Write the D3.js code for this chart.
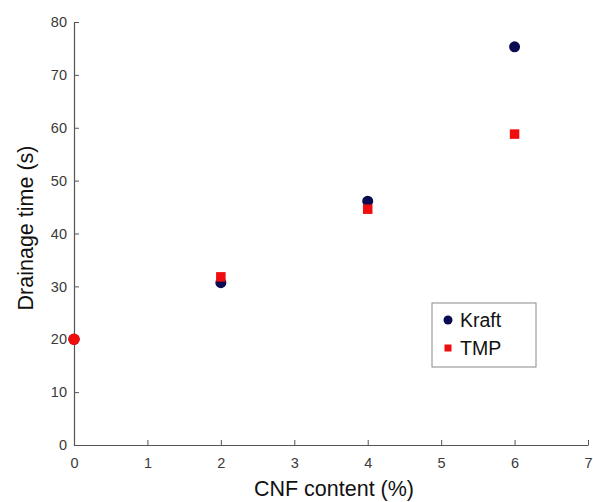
<!DOCTYPE html>
<html>
<head>
<meta charset="utf-8">
<script src="https://cdn.jsdelivr.net/npm/d3@7"></script>
<style>
  body { margin: 0; background: #fff; }
  svg { font-family: "Liberation Sans", Arial, sans-serif; }
</style>
</head>
<body>
<div id="chart"></div>
<script>
// CNF content (%) vs drainage time (s)
const cnfContent = [0, 2, 4, 6];
const kraftTime = [20, 30.7, 46.1, 75.3];
const tmpTime = [20, 31.8, 44.6, 58.8];
// the first TMP point is drawn round in the original figure
const tmpShape = ['circle', 'square', 'square', 'square'];
const xTicks = [0, 1, 2, 3, 4, 5, 6, 7];
const yTicks = [0, 10, 20, 30, 40, 50, 60, 70, 80];
const seriesNames = ['Kraft', 'TMP'];

const width = 593, height = 502;
const margin = { top: 22, right: 5, bottom: 57, left: 74 };
const navy = '#0b0b52';
const red = '#f00d0d';
const axisColor = '#555';

const svg = d3.select('#chart')
  .append('svg')
  .attr('width', width)
  .attr('height', height);

const x = d3.scaleLinear()
  .domain([0, 7])
  .range([margin.left, width - margin.right]);

const y = d3.scaleLinear()
  .domain([0, 80])
  .range([height - margin.bottom, margin.top]);

// axes, ticks pointing inward
const xAxis = svg.append('g')
  .attr('transform', `translate(0,${height - margin.bottom})`)
  .call(d3.axisBottom(x).tickValues(xTicks).tickFormat(d3.format('d'))
    .tickSizeInner(-5).tickSizeOuter(0).tickPadding(13));

const yAxis = svg.append('g')
  .attr('transform', `translate(${margin.left},0)`)
  .call(d3.axisLeft(y).tickValues(yTicks).tickFormat(d3.format('d'))
    .tickSizeInner(-5).tickSizeOuter(0).tickPadding(7));

[xAxis, yAxis].forEach(ax => {
  ax.select('.domain').attr('stroke', axisColor).attr('stroke-width', 1.2);
  ax.selectAll('.tick line').attr('stroke', axisColor);
  ax.selectAll('.tick text')
    .attr('fill', '#3a3a3a')
    .style('font-size', '14.5px');
});

// axis titles
svg.append('text')
  .attr('x', 334)
  .attr('y', 496)
  .attr('text-anchor', 'middle')
  .style('font-size', '21.5px')
  .attr('fill', '#111')
  .text('CNF content (%)');

svg.append('text')
  .attr('transform', 'translate(33,228) rotate(-90)')
  .attr('text-anchor', 'middle')
  .style('font-size', '21.5px')
  .attr('fill', '#111')
  .text('Drainage time (s)');

// Kraft points
svg.append('g')
  .selectAll('circle')
  .data(cnfContent.map((c, i) => ({ c, v: kraftTime[i] })))
  .enter()
  .append('circle')
  .attr('cx', d => x(d.c))
  .attr('cy', d => y(d.v))
  .attr('r', 5.5)
  .attr('fill', navy);

// TMP points
const sq = 9.5;
const tmpG = svg.append('g');
cnfContent.forEach((c, i) => {
  if (tmpShape[i] === 'circle') {
    tmpG.append('circle')
      .attr('cx', x(c))
      .attr('cy', y(tmpTime[i]))
      .attr('r', 5.8)
      .attr('fill', red);
  } else {
    tmpG.append('rect')
      .attr('x', x(c) - sq / 2)
      .attr('y', y(tmpTime[i]) - sq / 2)
      .attr('width', sq)
      .attr('height', sq)
      .attr('fill', red);
  }
});

// legend
const legend = svg.append('g')
  .attr('transform', 'translate(432,303)');

legend.append('rect')
  .attr('width', 104)
  .attr('height', 64)
  .attr('fill', '#fff')
  .attr('stroke', '#8a8a8a')
  .attr('stroke-width', 1);

seriesNames.forEach((name, i) => {
  const row = legend.append('g')
    .attr('transform', `translate(0, ${17 + i * 28})`);
  if (i === 0) {
    row.append('circle')
      .attr('cx', 16)
      .attr('cy', 0)
      .attr('r', 4.5)
      .attr('fill', navy);
  } else {
    row.append('rect')
      .attr('x', 12.5)
      .attr('y', -3.5)
      .attr('width', 7)
      .attr('height', 7)
      .attr('fill', red);
  }
  row.append('text')
    .attr('x', 28)
    .attr('y', 7)
    .style('font-size', '19.5px')
    .attr('fill', '#111')
    .text(name);
});
</script>
</body>
</html>
